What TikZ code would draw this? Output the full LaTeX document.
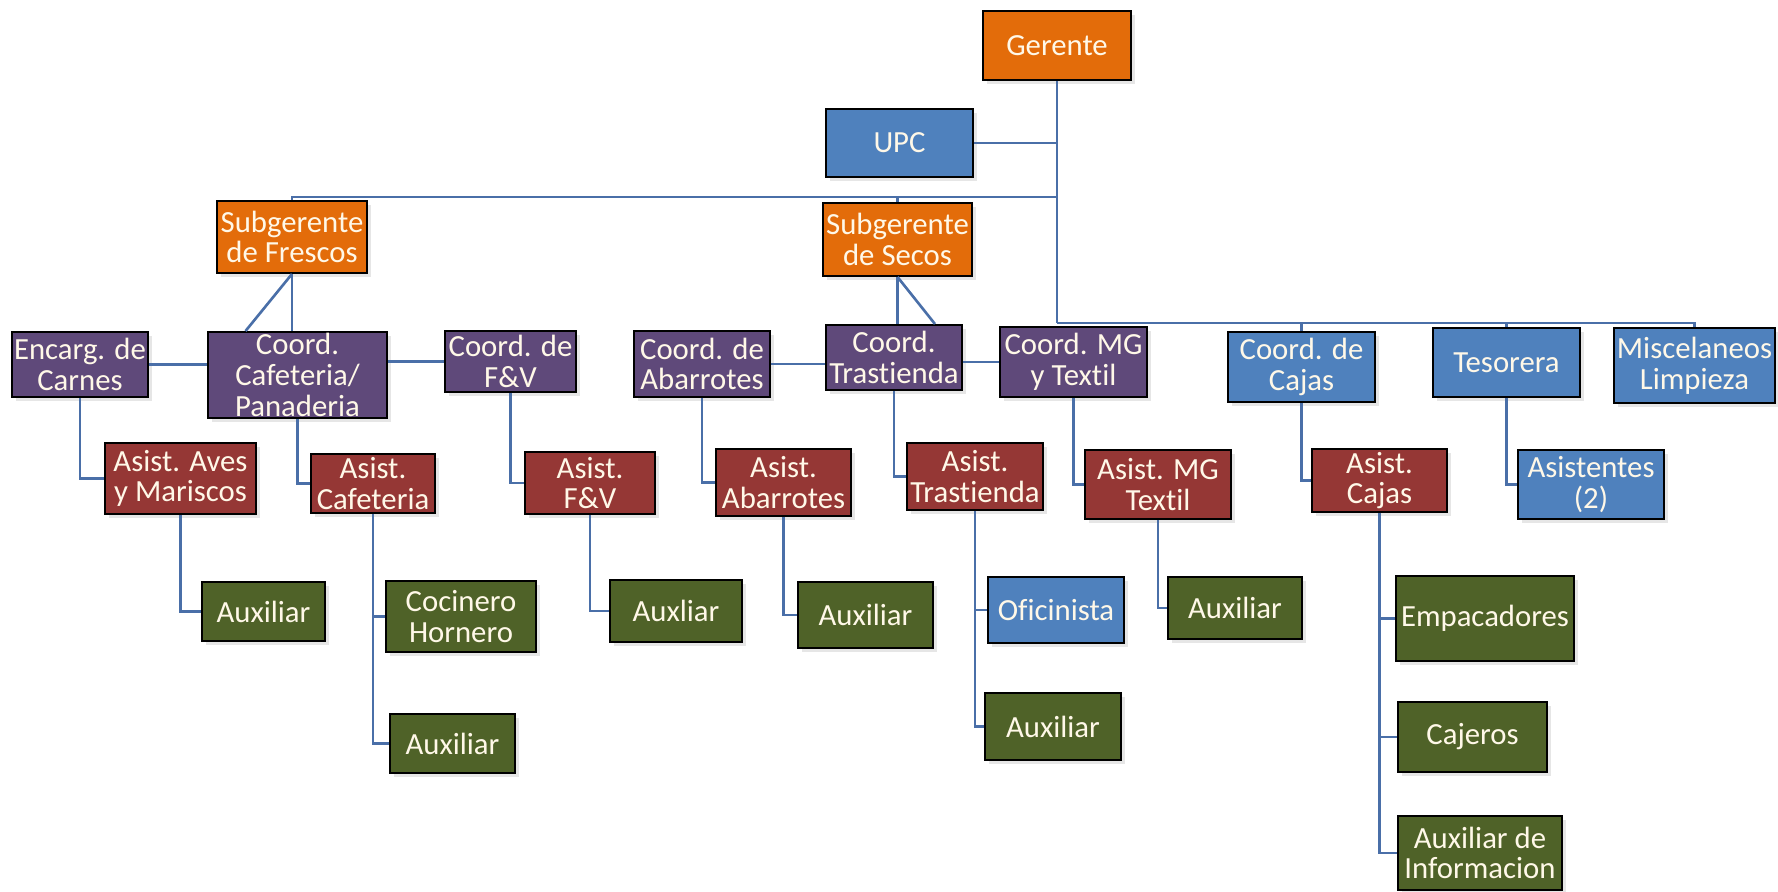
\documentclass[tikz,border=0pt]{standalone}
\usepackage{fontspec}
\setmainfont{Carlito}[Ligatures=NoCommon]
\usepackage{xcolor}
\usetikzlibrary{shadows}

\definecolor{naranja}{RGB}{227,108,10}
\definecolor{azul}{RGB}{79,129,189}
\definecolor{morado}{RGB}{95,73,122}
\definecolor{rojo}{RGB}{149,55,53}
\definecolor{verde}{RGB}{79,98,40}
\definecolor{linea}{RGB}{74,111,168}
\definecolor{crema}{RGB}{255,248,232}

\tikzset{
  caja/.style={draw=black, line width=1.1pt, inner sep=0pt, align=center,
    text=crema, font=\fontsize{17.5}{17.5}\selectfont,
    drop shadow={shadow xshift=2pt, shadow yshift=-2pt, opacity=0.2}},
  ger/.style={caja, fill=naranja},
  coo/.style={caja, fill=morado},
  asi/.style={caja, fill=rojo},
  aux/.style={caja, fill=verde},
  ofi/.style={caja, fill=azul},
  con/.style={draw=linea, line width=1.5pt}
}

\begin{document}
\begin{tikzpicture}[x=0.02cm,y=-0.02cm]
\useasboundingbox (0,0) rectangle (1778,892);

\node[ger, minimum width=2.96cm, minimum height=1.38cm] (gerente) at (1057,45.5) {Gerente};
\node[ofi, minimum width=2.94cm, minimum height=1.36cm] (upc) at (899.5,143) {UPC};
\node[ger, minimum width=3.00cm, minimum height=1.44cm] (sgfre) at (292,237) {Subgerente\\de Frescos};
\node[ger, minimum width=2.98cm, minimum height=1.46cm] (sgsec) at (897.5,239.5) {Subgerente\\de Secos};

\node[coo, minimum width=2.72cm, minimum height=1.30cm] (carnes) at (80,364.5) {Encarg. de\\Carnes};
\node[coo, minimum width=3.58cm, minimum height=1.72cm] (cafe) at (297.5,375) {Coord.\\Cafeteria/\\Panaderia};
\node[coo, minimum width=2.62cm, minimum height=1.22cm] (fyv) at (510.5,361.5) {Coord. de\\F\&V};
\node[coo, minimum width=2.72cm, minimum height=1.32cm] (abarr) at (702,364) {Coord. de\\Abarrotes};
\node[coo, minimum width=2.72cm, minimum height=1.30cm] (trast) at (894,357.5) {Coord.\\Trastienda};
\node[coo, minimum width=2.94cm, minimum height=1.40cm] (mgtex) at (1073.5,362) {Coord. MG\\y Textil};
\node[ofi, minimum width=2.94cm, minimum height=1.40cm] (cajas) at (1301.5,367) {Coord. de\\Cajas};
\node[ofi, minimum width=2.94cm, minimum height=1.38cm] (tesor) at (1506.5,362.5) {Tesorera};
\node[ofi, minimum width=3.22cm, minimum height=1.50cm] (misc) at (1694.5,365.5) {Miscelaneos\\Limpieza};

\node[asi, minimum width=3.02cm, minimum height=1.42cm] (aaves) at (180.5,478.5) {Asist. Aves\\y Mariscos};
\node[asi, minimum width=2.48cm, minimum height=1.18cm] (acafe) at (373,483.5) {Asist.\\Cafeteria};
\node[asi, minimum width=2.60cm, minimum height=1.24cm] (afyv) at (590,483) {Asist.\\F\&V};
\node[asi, minimum width=2.70cm, minimum height=1.34cm] (aabarr) at (783.5,482.5) {Asist.\\Abarrotes};
\node[asi, minimum width=2.72cm, minimum height=1.34cm] (atrast) at (975,476.5) {Asist.\\Trastienda};
\node[asi, minimum width=2.92cm, minimum height=1.38cm] (amgtex) at (1158,484.5) {Asist. MG\\Textil};
\node[asi, minimum width=2.70cm, minimum height=1.26cm] (acajas) at (1379.5,480.5) {Asist.\\Cajas};
\node[ofi, minimum width=2.92cm, minimum height=1.38cm] (asist) at (1591,484.5) {Asistentes\\(2)};

\node[aux, minimum width=2.46cm, minimum height=1.18cm] (auxaves) at (263.5,611.5) {Auxiliar};
\node[aux, minimum width=3.00cm, minimum height=1.42cm] (cocin) at (461,616.5) {Cocinero\\Hornero};
\node[aux, minimum width=2.50cm, minimum height=1.18cm] (auxcafe) at (452.5,743.5) {Auxiliar};
\node[aux, minimum width=2.64cm, minimum height=1.24cm] (auxfyv) at (676,611) {Auxliar};
\node[aux, minimum width=2.70cm, minimum height=1.32cm] (auxabarr) at (865.5,615) {Auxiliar};
\node[ofi, minimum width=2.72cm, minimum height=1.32cm] (oficin) at (1056,610) {Oficinista};
\node[aux, minimum width=2.72cm, minimum height=1.34cm] (auxtrast) at (1053,726.5) {Auxiliar};
\node[aux, minimum width=2.68cm, minimum height=1.24cm] (auxmgtex) at (1235,608) {Auxiliar};
\node[aux, minimum width=3.56cm, minimum height=1.70cm] (empac) at (1485,618.5) {Empacadores};
\node[aux, minimum width=2.98cm, minimum height=1.40cm] (cajer) at (1472.5,737) {Cajeros};
\node[aux, minimum width=3.28cm, minimum height=1.48cm] (auxinfo) at (1480,853) {Auxiliar de\\Informacion};

\coordinate (busizq) at (1057,197);
\coordinate (busder) at (1057,323);

\draw[con] (gerente.south) -- (busder);
\draw[con] (upc.east) -- (upc.east -| gerente.south);
\draw[con] (sgfre.north) |- (busizq);
\draw[con] (sgsec.north) -- (sgsec.north |- busizq);
\draw[con] (busder) -| (misc.north);
\draw[con] (cajas.north) -- (cajas.north |- busder);
\draw[con] (tesor.north) -- (tesor.north |- busder);

\draw[con] (sgfre.south) -- (sgfre.south |- cafe.north);
\draw[con] (sgfre.south) -- ([xshift=-1.04cm]cafe.north);
\draw[con] (sgsec.south) -- (sgsec.south |- trast.north);
\draw[con] (sgsec.south) -- ([xshift=0.82cm]trast.north);

\draw[con] (carnes.east) -- (carnes.east -| cafe.west);
\draw[con] (fyv.west) -- (fyv.west -| cafe.east);
\draw[con] (abarr.east) -- (abarr.east -| trast.west);
\draw[con] (mgtex.west -| trast.east) -- (mgtex.west);

\draw[con] (carnes.south) |- (aaves.west);
\draw[con] (cafe.south) |- (acafe.west);
\draw[con] (fyv.south) |- (afyv.west);
\draw[con] (abarr.south) |- (aabarr.west);
\draw[con] (trast.south) |- (atrast.west);
\draw[con] (mgtex.south) |- (amgtex.west);
\draw[con] (cajas.south) |- (acajas.west);
\draw[con] (tesor.south) |- (asist.west);

\draw[con] (aaves.south) |- (auxaves.west);
\draw[con] (acafe.south) |- (cocin.west);
\draw[con] (acafe.south) |- (auxcafe.west);
\draw[con] (afyv.south) |- (auxfyv.west);
\draw[con] (aabarr.south) |- (auxabarr.west);
\draw[con] (atrast.south) |- (oficin.west);
\draw[con] (atrast.south) |- (auxtrast.west);
\draw[con] (amgtex.south) |- (auxmgtex.west);
\draw[con] (acajas.south) |- (empac.west);
\draw[con] (acajas.south) |- (cajer.west);
\draw[con] (acajas.south) |- (auxinfo.west);
\end{tikzpicture}
\end{document}
